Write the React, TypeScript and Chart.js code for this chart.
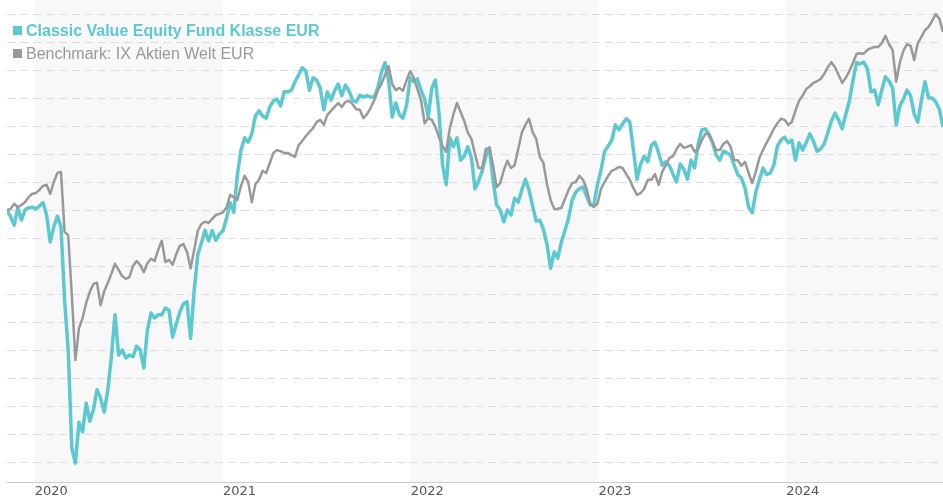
import React, { useEffect, useRef } from "react";
import { Chart, registerables } from "chart.js";

Chart.register(...registerables);

const FUND_NAME = "Classic Value Equity Fund Klasse EUR";
const BENCH_NAME = "Benchmark: IX Aktien Welt EUR";

const YEAR_TICKS = [2020, 2021, 2022, 2023, 2024];
const SHADED_YEARS = [2020, 2022, 2024];
const GRID_VALUES = [55, 60, 65, 70, 75, 80, 85, 90, 95, 100, 105, 110, 115, 120, 125, 130, 135];
const Y_MIN = 51.43;
const Y_MAX = 137.5;
const X_START = "2019-11-08";
const X_END = "2024-11-01";

const DATES = [
  "2019-11-08", "2019-11-15", "2019-11-22", "2019-11-29", "2019-12-06", "2019-12-13", "2019-12-20", "2019-12-27",
  "2020-01-03", "2020-01-10", "2020-01-17", "2020-01-24", "2020-01-31", "2020-02-07", "2020-02-14", "2020-02-21", "2020-02-28",
  "2020-03-06", "2020-03-13", "2020-03-20", "2020-03-27", "2020-04-03", "2020-04-10", "2020-04-17", "2020-04-24",
  "2020-05-01", "2020-05-08", "2020-05-15", "2020-05-22", "2020-05-29", "2020-06-05", "2020-06-12", "2020-06-19", "2020-06-26",
  "2020-07-03", "2020-07-10", "2020-07-17", "2020-07-24", "2020-07-31", "2020-08-07", "2020-08-14", "2020-08-21", "2020-08-28",
  "2020-09-04", "2020-09-11", "2020-09-18", "2020-09-25", "2020-10-02", "2020-10-09", "2020-10-16", "2020-10-23", "2020-10-30",
  "2020-11-06", "2020-11-13", "2020-11-20", "2020-11-27", "2020-12-04", "2020-12-11", "2020-12-18", "2020-12-25",
  "2021-01-01", "2021-01-08", "2021-01-15", "2021-01-22", "2021-01-29", "2021-02-05", "2021-02-12", "2021-02-19", "2021-02-26",
  "2021-03-05", "2021-03-12", "2021-03-19", "2021-03-26", "2021-04-02", "2021-04-09", "2021-04-16", "2021-04-23", "2021-04-30",
  "2021-05-07", "2021-05-14", "2021-05-21", "2021-05-28", "2021-06-04", "2021-06-11", "2021-06-18", "2021-06-25",
  "2021-07-02", "2021-07-09", "2021-07-16", "2021-07-23", "2021-07-30", "2021-08-06", "2021-08-13", "2021-08-20", "2021-08-27",
  "2021-09-03", "2021-09-10", "2021-09-17", "2021-09-24", "2021-10-01", "2021-10-08", "2021-10-15", "2021-10-22", "2021-10-29",
  "2021-11-05", "2021-11-12", "2021-11-19", "2021-11-26", "2021-12-03", "2021-12-10", "2021-12-17", "2021-12-24", "2021-12-31",
  "2022-01-07", "2022-01-14", "2022-01-21", "2022-01-28", "2022-02-04", "2022-02-11", "2022-02-18", "2022-02-25",
  "2022-03-04", "2022-03-11", "2022-03-18", "2022-03-25", "2022-04-01", "2022-04-08", "2022-04-15", "2022-04-22", "2022-04-29",
  "2022-05-06", "2022-05-13", "2022-05-20", "2022-05-27", "2022-06-03", "2022-06-10", "2022-06-17", "2022-06-24",
  "2022-07-01", "2022-07-08", "2022-07-15", "2022-07-22", "2022-07-29", "2022-08-05", "2022-08-12", "2022-08-19", "2022-08-26",
  "2022-09-02", "2022-09-09", "2022-09-16", "2022-09-23", "2022-09-30", "2022-10-07", "2022-10-14", "2022-10-21", "2022-10-28",
  "2022-11-04", "2022-11-11", "2022-11-18", "2022-11-25", "2022-12-02", "2022-12-09", "2022-12-16", "2022-12-23", "2022-12-30",
  "2023-01-06", "2023-01-13", "2023-01-20", "2023-01-27", "2023-02-03", "2023-02-10", "2023-02-17", "2023-02-24",
  "2023-03-03", "2023-03-10", "2023-03-17", "2023-03-24", "2023-03-31", "2023-04-07", "2023-04-14", "2023-04-21", "2023-04-28",
  "2023-05-05", "2023-05-12", "2023-05-19", "2023-05-26", "2023-06-02", "2023-06-09", "2023-06-16", "2023-06-23", "2023-06-30",
  "2023-07-07", "2023-07-14", "2023-07-21", "2023-07-28", "2023-08-04", "2023-08-11", "2023-08-18", "2023-08-25",
  "2023-09-01", "2023-09-08", "2023-09-15", "2023-09-22", "2023-09-29", "2023-10-06", "2023-10-13", "2023-10-20", "2023-10-27",
  "2023-11-03", "2023-11-10", "2023-11-17", "2023-11-24", "2023-12-01", "2023-12-08", "2023-12-15", "2023-12-22", "2023-12-29",
  "2024-01-05", "2024-01-12", "2024-01-19", "2024-01-26", "2024-02-02", "2024-02-09", "2024-02-16", "2024-02-23",
  "2024-03-01", "2024-03-08", "2024-03-15", "2024-03-22", "2024-03-29", "2024-04-05", "2024-04-12", "2024-04-19", "2024-04-26",
  "2024-05-03", "2024-05-10", "2024-05-17", "2024-05-24", "2024-05-31", "2024-06-07", "2024-06-14", "2024-06-21", "2024-06-28",
  "2024-07-05", "2024-07-12", "2024-07-19", "2024-07-26", "2024-08-02", "2024-08-09", "2024-08-16", "2024-08-23", "2024-08-30",
  "2024-09-06", "2024-09-13", "2024-09-20", "2024-09-27", "2024-10-04", "2024-10-11", "2024-10-18", "2024-10-25", "2024-11-01",
];

const FUND = [
  100.0, 98.8, 97.3, 100.4, 98.2, 100.0, 100.4, 100.5, 100.2, 100.7,
  101.3, 99.1, 94.3, 97.0, 98.9, 97.0, 83.9, 75.0, 57.5, 54.8,
  62.1, 60.4, 65.5, 62.3, 64.3, 67.9, 66.4, 63.9, 67.9, 73.8,
  81.3, 74.1, 75.0, 73.6, 74.1, 73.8, 75.7, 75.0, 71.8, 78.6,
  81.6, 80.7, 81.3, 81.3, 82.5, 82.1, 77.3, 79.6, 81.8, 83.2,
  83.6, 77.1, 85.7, 92.0, 94.1, 96.4, 94.5, 96.3, 94.6, 95.7,
  96.3, 98.6, 101.3, 99.6, 106.3, 110.7, 112.9, 112.1, 113.6, 116.8,
  117.7, 116.8, 116.4, 118.4, 119.5, 119.8, 118.6, 121.1, 121.1, 121.4,
  122.9, 124.1, 125.4, 124.8, 121.4, 123.6, 123.2, 121.8, 117.9, 121.1,
  119.6, 121.3, 122.5, 120.4, 122.3, 121.3, 119.6, 119.3, 120.5, 120.2,
  120.4, 120.2, 120.2, 121.8, 124.6, 126.3, 123.2, 116.6, 119.1, 117.0,
  116.4, 118.8, 123.6, 122.9, 123.4, 121.4, 119.8, 116.6, 121.8, 123.2,
  117.3, 108.0, 104.5, 112.9, 111.3, 112.9, 108.9, 109.6, 111.3, 109.3,
  103.8, 105.2, 107.0, 109.6, 111.1, 105.4, 100.9, 100.0, 97.9, 100.0,
  99.1, 102.1, 101.4, 103.6, 105.5, 103.6, 100.7, 98.0, 98.2, 96.6,
  93.8, 89.6, 92.5, 91.4, 94.3, 96.4, 98.6, 101.8, 103.2, 103.8,
  104.1, 102.5, 100.9, 100.9, 104.5, 107.1, 110.5, 111.4, 112.5, 115.2,
  114.3, 115.4, 116.3, 115.7, 110.7, 105.5, 108.2, 109.6, 108.6, 111.6,
  112.1, 110.2, 108.0, 108.6, 107.9, 106.4, 105.0, 108.2, 107.3, 105.5,
  108.9, 107.5, 111.8, 114.3, 114.5, 113.4, 112.0, 109.8, 108.9, 110.5,
  110.2, 109.8, 108.0, 106.3, 105.7, 103.9, 100.5, 99.5, 103.2, 105.4,
  107.5, 106.3, 106.6, 108.0, 111.4, 112.5, 113.0, 112.0, 112.5, 108.9,
  112.0, 110.7, 112.0, 113.6, 112.3, 110.5, 110.9, 111.8, 113.8, 115.9,
  117.3, 116.1, 114.5, 117.1, 119.5, 123.2, 126.3, 126.1, 126.4, 125.2,
  121.1, 121.4, 118.8, 121.4, 123.8, 123.0, 121.8, 115.2, 118.6, 119.8,
  121.4, 120.4, 117.1, 115.7, 119.6, 122.9, 120.0, 120.0, 119.3, 118.0,
  114.8,
];

const BENCHMARK = [
  100.0, 100.2, 101.1, 100.5, 100.9, 101.4, 102.3, 102.9, 103.0, 103.6,
  104.3, 104.5, 102.9, 105.0, 106.6, 106.8, 96.1, 95.5, 84.8, 73.2,
  78.9, 80.7, 83.4, 85.4, 86.8, 87.0, 83.0, 85.5, 87.0, 88.6,
  90.4, 89.3, 88.2, 87.7, 88.0, 90.0, 90.9, 90.2, 88.9, 90.5,
  91.3, 90.9, 92.9, 94.5, 90.7, 91.1, 90.2, 92.1, 93.6, 93.9,
  92.5, 89.6, 92.9, 96.3, 97.5, 97.9, 97.7, 98.4, 99.1, 99.3,
  99.6, 100.5, 102.7, 102.3, 101.8, 104.3, 106.1, 105.0, 101.4, 104.6,
  105.4, 107.0, 106.6, 108.4, 110.2, 110.7, 110.5, 110.2, 110.2, 109.8,
  109.5, 111.6, 112.3, 113.2, 113.9, 114.6, 115.7, 116.1, 115.2, 117.0,
  117.7, 118.4, 119.1, 118.4, 119.3, 119.5, 118.9, 118.0, 117.9, 116.4,
  117.1, 118.2, 119.6, 121.3, 122.5, 124.1, 125.7, 122.5, 121.4, 121.8,
  121.3, 123.2, 124.8, 123.6, 121.6, 119.6, 115.5, 116.4, 116.1, 114.8,
  113.0, 111.4, 110.4, 114.6, 117.1, 119.1, 117.5, 115.9, 113.8, 112.7,
  110.0, 107.5, 107.5, 110.9, 111.1, 108.0, 104.1, 104.8, 107.1, 108.8,
  107.5, 108.0, 110.9, 113.8, 115.2, 116.3, 113.9, 112.7, 109.5, 108.4,
  104.6, 101.8, 100.2, 100.2, 100.4, 102.0, 103.6, 104.8, 105.0, 106.1,
  105.4, 103.8, 101.1, 100.5, 101.1, 103.8, 105.0, 106.1, 107.0, 107.3,
  107.7, 107.5, 106.4, 105.4, 103.9, 102.7, 103.0, 103.8, 105.4, 105.4,
  106.4, 104.5, 106.8, 108.0, 109.3, 109.6, 110.9, 111.8, 111.1, 111.3,
  111.6, 110.4, 110.9, 112.5, 113.6, 113.6, 112.1, 110.7, 110.7, 111.8,
  112.3, 111.3, 108.9, 108.9, 107.9, 108.6, 106.6, 104.8, 106.8, 109.3,
  110.7, 112.0, 113.2, 114.5, 115.5, 116.3, 116.1, 115.2, 115.7, 117.7,
  119.5, 120.4, 121.6, 122.1, 122.7, 123.0, 123.4, 124.3, 125.5, 126.4,
  125.5, 124.1, 122.7, 123.6, 124.8, 126.3, 127.9, 128.0, 127.9, 128.6,
  128.9, 129.1, 129.1, 129.8, 131.1, 129.6, 128.6, 122.9, 126.3, 128.4,
  129.6, 129.3, 126.8, 129.8, 130.9, 132.1, 132.7, 133.8, 135.0, 134.1,
  131.8,
];

const FUND_COLOR = "#5cc8d0";
const BENCH_COLOR = "#999999";
const BAND_COLOR = "#f8f8f8";
const GRID_COLOR = "#dddddd";

const bandsPlugin = {
  id: "yearBands",
  beforeDraw(chart: any) {
    const { ctx, chartArea, scales } = chart;
    const xs = scales.x;
    ctx.save();
    ctx.fillStyle = BAND_COLOR;
    SHADED_YEARS.forEach((yr) => {
      const x0 = Math.max(chartArea.left, xs.getPixelForValue(Date.UTC(yr, 0, 1)));
      const x1 = Math.min(chartArea.right, xs.getPixelForValue(Date.UTC(yr + 1, 0, 1)));
      if (x1 > x0) ctx.fillRect(x0, chartArea.top, x1 - x0, chartArea.bottom - chartArea.top);
    });
    ctx.restore();
  },
};

const legendPlugin = {
  id: "topLegend",
  afterDraw(chart: any) {
    const { ctx } = chart;
    ctx.save();
    ctx.textBaseline = "alphabetic";
    ctx.textAlign = "left";
    ctx.fillStyle = FUND_COLOR;
    ctx.fillRect(13, 26, 9, 9);
    ctx.font = "bold 16px 'Liberation Sans', Arial, sans-serif";
    ctx.fillText(FUND_NAME, 26, 35.5);
    ctx.fillStyle = BENCH_COLOR;
    ctx.fillRect(13, 49, 9, 9);
    ctx.font = "16px 'Liberation Sans', Arial, sans-serif";
    ctx.fillText(BENCH_NAME, 26, 58.5);
    ctx.restore();
  },
};

export default function App() {
  const canvasRef = useRef<HTMLCanvasElement | null>(null);

  useEffect(() => {
    if (!canvasRef.current) return;
    const fundPts = DATES.map((d, i) => ({ x: Date.parse(d), y: FUND[i] }));
    const benchPts = DATES.map((d, i) => ({ x: Date.parse(d), y: BENCHMARK[i] }));
    const chart = new Chart(canvasRef.current, {
      type: "line",
      data: {
        datasets: [
          {
            label: BENCH_NAME,
            data: benchPts,
            borderColor: BENCH_COLOR,
            borderWidth: 2.5,
            pointRadius: 0,
            tension: 0,
            order: 0,
            borderJoinStyle: "round",
          },
          {
            label: FUND_NAME,
            data: fundPts,
            borderColor: FUND_COLOR,
            borderWidth: 3.5,
            pointRadius: 0,
            tension: 0,
            order: 1,
            borderJoinStyle: "round",
          },
        ],
      },
      options: {
        animation: false,
        responsive: true,
        maintainAspectRatio: false,
        parsing: false,
        layout: { padding: { left: 7, right: 0, top: 0, bottom: 0 } },
        plugins: { legend: { display: false }, tooltip: { enabled: false } },
        scales: {
          x: {
            type: "linear",
            min: Date.parse(X_START),
            max: Date.parse(X_END),
            afterBuildTicks: (scale: any) => {
              scale.ticks = YEAR_TICKS.map((y) => ({ value: Date.UTC(y, 0, 1) }));
            },
            afterFit: (scale: any) => {
              scale.height = 18;
            },
            grid: { display: false, drawTicks: false },
            border: { display: true, color: "#cccccc", width: 1 },
            ticks: {
              autoSkip: false,
              maxRotation: 0,
              minRotation: 0,
              align: "start",
              padding: 2,
              color: "#555555",
              font: { family: "'DejaVu Sans', Verdana, sans-serif", size: 13 },
              callback: (v: any) => String(new Date(v).getUTCFullYear()),
            },
          },
          y: {
            type: "linear",
            min: Y_MIN,
            max: Y_MAX,
            afterBuildTicks: (scale: any) => {
              scale.ticks = GRID_VALUES.map((v) => ({ value: v }));
            },
            afterFit: (scale: any) => {
              scale.width = 0;
            },
            ticks: { display: false },
            grid: { color: GRID_COLOR, lineWidth: 1, drawTicks: false },
            border: { display: false, dash: [8, 5] },
          },
        },
      },
      plugins: [bandsPlugin, legendPlugin],
    } as any);
    return () => chart.destroy();
  }, []);

  return (
    <div style={{ position: "fixed", left: 0, top: 0, width: 943, height: 500, background: "#ffffff" }}>
      <canvas ref={canvasRef} />
    </div>
  );
}
